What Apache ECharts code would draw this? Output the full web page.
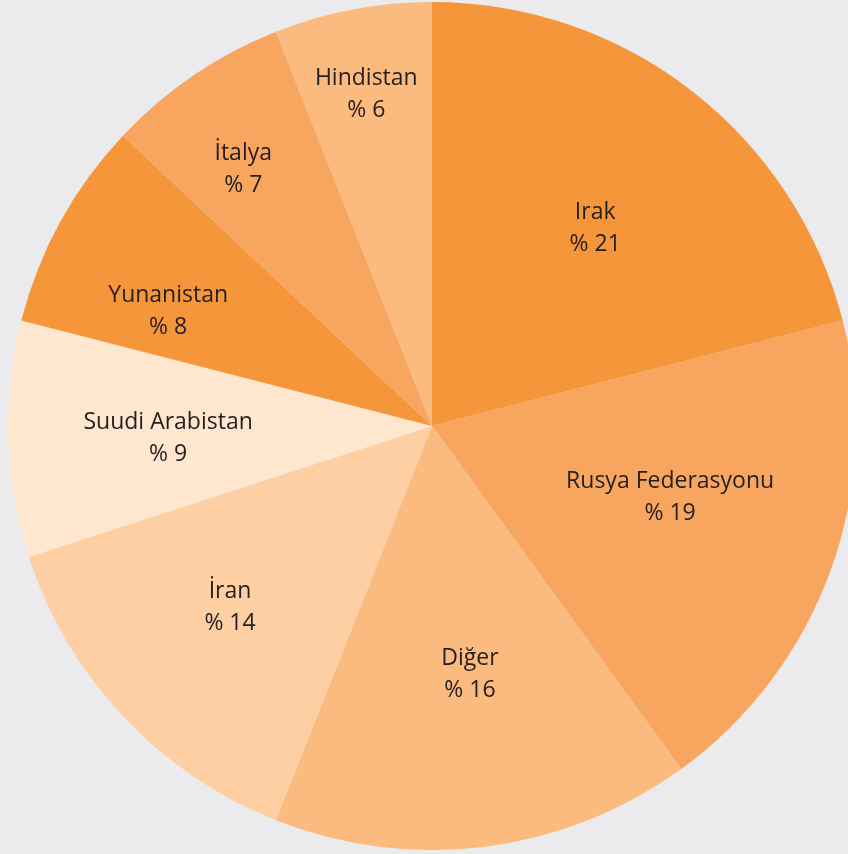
<!DOCTYPE html>
<html><head><meta charset="utf-8">
<script src="https://cdn.jsdelivr.net/npm/echarts@6/dist/echarts.min.js"></script>
<style>html,body{margin:0;padding:0;background:#EBEBEE;}#c{width:848px;height:854px;}</style>
</head><body><div id="c"></div>
<script>
const categories = ["Irak","Rusya Federasyonu","Diğer","İran","Suudi Arabistan","Yunanistan","İtalya","Hindistan"];
const values = [21,19,16,14,9,8,7,6];
const colors = ["#F6963A","#F8A65F","#FBBA7E","#FDCFA3","#FEE6CF","#F6963A","#F8A65F","#FBBA7E"];
// label placement (fraction of radius, angular shift in degrees)
const labelRadius = [0.605,0.586,0.592,0.641,0.623,0.678,0.752,0.798];
const labelShift = [1.7,-3.2,-1.5,1.2,-0.8,-5.4,-2.1,-0.4];

const cx = 432, cy = 426, R = 424;
const total = values.reduce((a,b)=>a+b,0);
const mids = [];
let acc = 0;
values.forEach(v => { mids.push((acc + v/2)/total*2*Math.PI); acc += v; });

const chart = echarts.init(document.getElementById('c'));
chart.setOption({
  backgroundColor: '#EBEBEE',
  animation: false,
  series: [{
    type: 'pie',
    center: [cx, cy],
    radius: [0, R],
    startAngle: 90,
    clockwise: true,
    avoidLabelOverlap: false,
    data: categories.map((n,i)=>({name:n, value:values[i], itemStyle:{color:colors[i]}})),
    label: {
      show: true,
      position: 'inside',
      formatter: p => p.name + '\n% ' + p.value,
      color: '#231F20',
      fontFamily: 'Open Sans',
      fontSize: 23,
      lineHeight: 32,
      align: 'center'
    },
    labelLine: {show:false},
    labelLayout: function(p){
      const i = p.dataIndex;
      const a = mids[i] + labelShift[i]*Math.PI/180;
      return { x: cx + Math.sin(a)*R*labelRadius[i], y: cy - Math.cos(a)*R*labelRadius[i], align:'center', verticalAlign:'middle' };
    }
  }]
});
</script></body></html>
